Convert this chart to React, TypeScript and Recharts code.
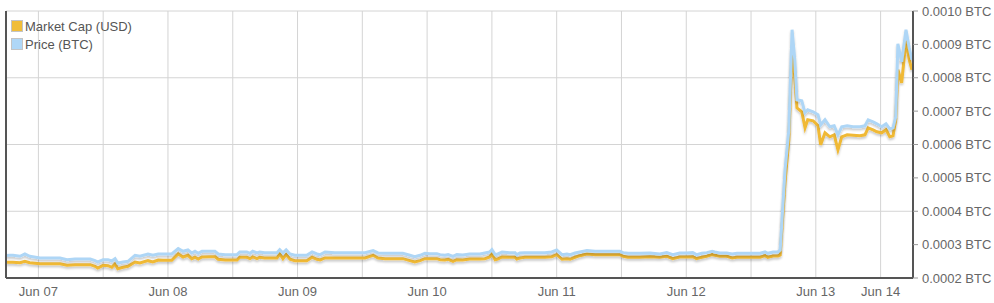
import React from "react";
import {
  LineChart,
  Line,
  XAxis,
  YAxis,
  CartesianGrid,
  Legend,
} from "recharts";

// hours since Jun 07 00:00
const hours = [
  -6.0, -5.3, -4.7, -3.4, -2.5, -1.6, 0.3, 2.1, 4.0, 5.3,
  6.8, 8.6, 9.6, 10.5, 11.0, 12.0, 12.9, 13.6, 14.2, 14.7,
  15.7, 16.6, 17.9, 18.8, 20.3, 21.2, 22.2, 23.1, 24.7, 25.9,
  26.8, 27.7, 28.4, 29.0, 29.6, 30.3, 31.8, 32.7, 33.3, 34.6,
  36.8, 37.3, 38.6, 39.2, 39.7, 40.5, 41.0, 41.9, 44.2, 44.7,
  45.3, 45.9, 46.6, 47.5, 49.7, 50.7, 51.6, 52.2, 53.1, 54.9,
  57.7, 60.5, 62.0, 62.9, 64.2, 67.5, 68.8, 69.7, 70.7, 71.6,
  72.5, 73.8, 74.4, 75.3, 75.9, 76.8, 77.5, 78.6, 79.9, 81.8,
  82.7, 83.6, 84.0, 84.6, 85.1, 85.9, 87.3, 88.3, 88.6, 89.2,
  90.1, 93.8, 95.1, 96.0, 97.0, 97.9, 98.5, 99.4, 100.3, 101.6,
  103.1, 105.9, 107.7, 108.3, 109.2, 111.4, 113.3, 115.1, 116.4, 117.5,
  118.8, 120.1, 121.2, 121.9, 122.9, 123.8, 124.8, 125.3, 126.2, 127.5,
  128.5, 129.4, 133.7, 134.6, 135.1, 136.1, 137.0, 137.4, 138.3, 139.0,
  139.6, 140.1, 140.5, 141.4, 142.0, 142.5, 143.5, 144.4, 144.9, 145.7,
  146.6, 147.4, 148.1, 148.8, 149.8, 150.9, 152.2, 153.1, 153.7, 154.6,
  155.3, 156.2, 157.0, 157.7, 158.3, 158.8, 159.2, 159.9, 160.7, 161.3,
  161.8,
];

const priceBtc = [
  0.0002675, 0.000268, 0.000268, 0.000265, 0.000272, 0.000265, 0.00026, 0.00026, 0.00026, 0.000255,
  0.000257, 0.000257, 0.000257, 0.000252, 0.000248, 0.000255, 0.000255, 0.000251, 0.000258, 0.000245,
  0.000248, 0.00025, 0.000268, 0.000265, 0.000272, 0.000268, 0.000272, 0.000272, 0.000272, 0.000288,
  0.00028, 0.000284, 0.000275, 0.00028, 0.000274, 0.00028, 0.00028, 0.00028, 0.000272, 0.00027,
  0.00027, 0.000278, 0.000278, 0.000274, 0.00028, 0.000275, 0.000278, 0.000276, 0.000276, 0.000285,
  0.000275, 0.000284, 0.000272, 0.000268, 0.000268, 0.000278, 0.000272, 0.00027, 0.000278, 0.000276,
  0.000276, 0.000276, 0.000282, 0.000275, 0.000274, 0.000274, 0.000268, 0.000264, 0.000268, 0.000274,
  0.000273, 0.000273, 0.00027, 0.000268, 0.00027, 0.000265, 0.00027, 0.000269, 0.000272, 0.000272,
  0.000275, 0.000278, 0.000285, 0.00027, 0.000272, 0.000278, 0.000276, 0.000276, 0.00027, 0.000275,
  0.000276, 0.000276, 0.000278, 0.000284, 0.00027, 0.000272, 0.00027, 0.000275, 0.000278, 0.000282,
  0.00028, 0.00028, 0.00028, 0.000276, 0.000274, 0.000274, 0.000275, 0.000272, 0.000276, 0.00027,
  0.000275, 0.000275, 0.000276, 0.00027, 0.000274, 0.000276, 0.00028, 0.000278, 0.000275, 0.000275,
  0.000272, 0.000274, 0.000274, 0.000278, 0.000274, 0.000278, 0.000278, 0.000284, 0.000524, 0.000644,
  0.000944, 0.000854, 0.000734, 0.000731, 0.000695, 0.000704, 0.000698, 0.000689, 0.000659, 0.000674,
  0.000653, 0.000656, 0.000629, 0.000653, 0.000656, 0.000653, 0.000653, 0.000656, 0.000674, 0.000668,
  0.000662, 0.000653, 0.000662, 0.000647, 0.00065, 0.000683, 0.000902, 0.000848, 0.000944, 0.00089,
  0.000854,
];

const marketCapUsd = [
  47100, 47100, 47100, 45600, 50100, 45900, 42900, 42900, 42900, 38100,
  39900, 39900, 39900, 35100, 30000, 38100, 36900, 32100, 42000, 27900,
  32100, 35100, 48000, 45000, 51900, 48000, 54000, 53100, 53100, 72000,
  63000, 68100, 57900, 62100, 57000, 63000, 63900, 63900, 56100, 54000,
  54000, 62100, 62100, 57900, 63000, 57900, 62100, 60000, 60000, 72000,
  57900, 69900, 56100, 51900, 51900, 62100, 56100, 54000, 60000, 60000,
  60000, 60000, 68100, 60000, 57900, 57900, 51900, 48000, 51900, 57900,
  57900, 57900, 54900, 54000, 56100, 50100, 54900, 54000, 57000, 57000,
  57900, 63000, 72000, 54900, 57000, 63000, 62100, 62100, 57000, 60000,
  62100, 62100, 63900, 69900, 56100, 57900, 56100, 62100, 66900, 72000,
  69900, 69900, 69900, 65100, 62100, 62100, 63900, 62100, 65100, 57900,
  63000, 63000, 63900, 57900, 62100, 65100, 69900, 68100, 65100, 65100,
  60000, 62100, 62100, 66900, 62100, 66000, 66000, 69000, 288000, 414000,
  690000, 603000, 510000, 498000, 450000, 474000, 471000, 456000, 399000, 435000,
  423000, 429000, 384000, 423000, 429000, 427500, 426000, 429000, 450000, 444000,
  438000, 435000, 444000, 423000, 426000, 474000, 624000, 585000, 711000, 654000,
  624000,
];

const xTicks = [0, 12, 24, 36, 48, 60, 72, 84, 96, 108, 120, 132, 144, 156];
const labelHours = [0, 24, 48, 72, 96, 120, 144, 156];
const labelTexts = ["Jun 07", "Jun 08", "Jun 09", "Jun 10", "Jun 11", "Jun 12", "Jun 13", "Jun 14"];
const btcTicks = [0.0002, 0.0003, 0.0004, 0.0005, 0.0006, 0.0007, 0.0008, 0.0009, 0.001];
const usdTicks = [0, 200000, 400000, 600000, 800000];

const data = hours.map((t, i) => ({
  t,
  marketCap: marketCapUsd[i],
  price: priceBtc[i],
}));

const FONT = "'Liberation Sans', Arial, sans-serif";
const BORDER = "#555555";

const renderLegend = () => (
  <div style={{ fontFamily: FONT, fontSize: 13, color: "#555" }}>
    {[
      { name: "Market Cap (USD)", color: "#f0bd3a" },
      { name: "Price (BTC)", color: "#afd7f7" },
    ].map((item) => (
      <div
        key={item.name}
        style={{ display: "flex", alignItems: "center", height: 18 }}
      >
        <span
          style={{
            display: "inline-block",
            width: 10,
            height: 10,
            background: item.color,
            border: "1px solid #c4c4c4",
            marginRight: 2,
          }}
        />
        <span>{item.name}</span>
      </div>
    ))}
  </div>
);

export default function App() {
  return (
    <div style={{ position: "absolute", left: 0, top: 0 }}>
      <svg width={0} height={0} style={{ position: "absolute" }}>
        <defs>
          <filter id="lineShadow" x="-5%" y="-20%" width="110%" height="140%">
            <feDropShadow dx="0" dy="2" stdDeviation="1" floodColor="#000" floodOpacity="0.22" />
          </filter>
        </defs>
      </svg>
      <LineChart
        width={994}
        height={303}
        data={data}
        margin={{ top: 11, right: 0, bottom: 0, left: 0 }}
        style={{ fontFamily: FONT }}
      >
        <CartesianGrid yAxisId="left" stroke="#d4d4d4" strokeWidth={1} />
        <XAxis
          dataKey="t"
          type="number"
          domain={[-6, 162]}
          ticks={xTicks}
          interval={0}
          height={25}
          tickLine={false}
          tickSize={0}
          tickMargin={9}
          axisLine={{ stroke: BORDER, strokeWidth: 2 }}
          tick={{ fill: "#666", fontSize: 13 }}
          tickFormatter={(v: number) => {
            const k = labelHours.indexOf(v);
            return k >= 0 ? labelTexts[k] : "";
          }}
        />
        <XAxis
          xAxisId="top"
          dataKey="t"
          type="number"
          orientation="top"
          domain={[-6, 162]}
          height={0}
          tick={false}
          tickLine={false}
          axisLine={{ stroke: BORDER, strokeWidth: 2 }}
        />
        <YAxis
          yAxisId="left"
          orientation="left"
          type="number"
          domain={[0, 800000]}
          ticks={usdTicks}
          interval={0}
          width={6}
          tickLine={false}
          tickSize={0}
          tickMargin={0}
          tick={{ fontSize: 1, fill: "none" }}
          tickFormatter={() => ""}
          axisLine={{ stroke: BORDER, strokeWidth: 2 }}
        />
        <YAxis
          yAxisId="right"
          orientation="right"
          type="number"
          domain={[0.0002, 0.001]}
          ticks={btcTicks}
          interval={0}
          width={81}
          tickSize={5}
          tickMargin={4}
          tickLine={{ stroke: "#999" }}
          axisLine={{ stroke: BORDER, strokeWidth: 2 }}
          tick={{ fill: "#666", fontSize: 13 }}
          tickFormatter={(v: number) => v.toFixed(4) + " BTC"}
        />
        <Legend
          layout="vertical"
          align="center"
          verticalAlign="middle"
          wrapperStyle={{ top: 17, left: 11, width: "auto" }}
          content={renderLegend}
        />
        <Line
          yAxisId="left"
          type="linear"
          dataKey="marketCap"
          name="Market Cap (USD)"
          stroke="#f0b935"
          strokeWidth={3}
          dot={false}
          activeDot={false}
          filter="url(#lineShadow)"
          isAnimationActive={false}
        />
        <Line
          yAxisId="right"
          type="linear"
          dataKey="price"
          name="Price (BTC)"
          stroke="#aed6f6"
          strokeWidth={3}
          dot={false}
          activeDot={false}
          filter="url(#lineShadow)"
          isAnimationActive={false}
        />
      </LineChart>
    </div>
  );
}
